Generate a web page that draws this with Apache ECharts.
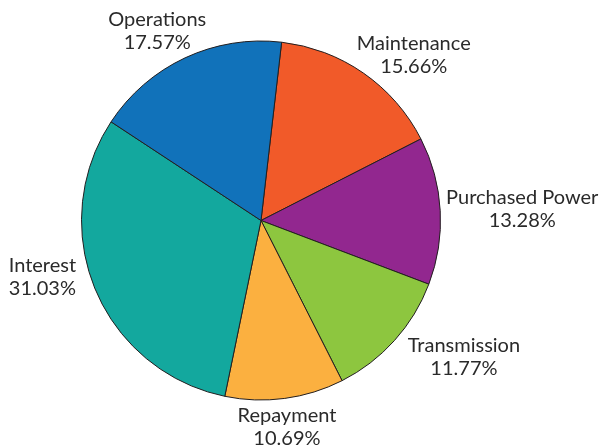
<!DOCTYPE html>
<html><head><meta charset="utf-8">
<script src="https://cdn.jsdelivr.net/npm/echarts@6/dist/echarts.min.js"></script>
<style>html,body{margin:0;padding:0;background:#fff}#c{width:600px;height:446px}</style>
</head><body><div id="c"></div>
<script>
// ---- data ----
const categories = ['Maintenance', 'Purchased Power', 'Transmission', 'Repayment', 'Interest', 'Operations'];
const percentages = [15.66, 13.28, 11.77, 10.69, 31.03, 17.57];

// ---- style / layout ----
const colors = ['#F15A29', '#92278F', '#8DC63F', '#FBB040', '#13A89E', '#1172BA'];
const labelNudge = [[15, 3], [1, 0], [24, -1], [-5, 3], [-17, -22], [-5, -3]];
const CX = 261, CY = 220.5, R = 179.5, START = 83.4, GAP = 5, FONT = 20, LH = 23;
const FAMILY = 'Lato';

const total = percentages.reduce((a, b) => a + b, 0);
const mids = [];
let acc = 0;
percentages.forEach(v => { const a0 = acc; acc += v / total * 360; mids.push((90 - START) + (a0 + acc) / 2); });

const ctx = document.createElement('canvas').getContext('2d');
ctx.font = FONT + 'px ' + FAMILY;
const fmt = (name, v) => name + '\n' + v.toFixed(2) + '%';
const widths = categories.map((n, i) => Math.max(ctx.measureText(n).width, ctx.measureText(percentages[i].toFixed(2) + '%').width));

const chart = echarts.init(document.getElementById('c'), null, { renderer: 'canvas' });
chart.setOption({
  backgroundColor: '#ffffff',
  animation: false,
  series: [{
    type: 'pie',
    center: [CX, CY],
    radius: R,
    startAngle: START,
    clockwise: true,
    avoidLabelOverlap: false,
    data: categories.map((n, i) => ({ name: n, value: percentages[i], itemStyle: { color: colors[i] } })),
    itemStyle: { borderColor: '#231F20', borderWidth: 1 },
    label: {
      show: true,
      position: 'outside',
      formatter: p => fmt(p.name, p.value),
      fontFamily: FAMILY,
      fontSize: FONT,
      lineHeight: LH,
      color: '#2a2a2a',
      width: 240,
      overflow: 'none',
      align: 'center'
    },
    labelLine: { show: false },
    labelLayout: function (p) {
      const i = p.dataIndex;
      const t = mids[i] * Math.PI / 180;
      const ux = Math.sin(t), uy = -Math.cos(t);
      const w = widths[i], h = 2 * LH - 4;
      return {
        x: CX + (R + GAP) * ux + ux * w / 2 + labelNudge[i][0],
        y: CY + (R + GAP) * uy + uy * h / 2 + labelNudge[i][1],
        align: 'center',
        verticalAlign: 'middle'
      };
    },
    emphasis: { disabled: true }
  }]
});
</script>
</body></html>
